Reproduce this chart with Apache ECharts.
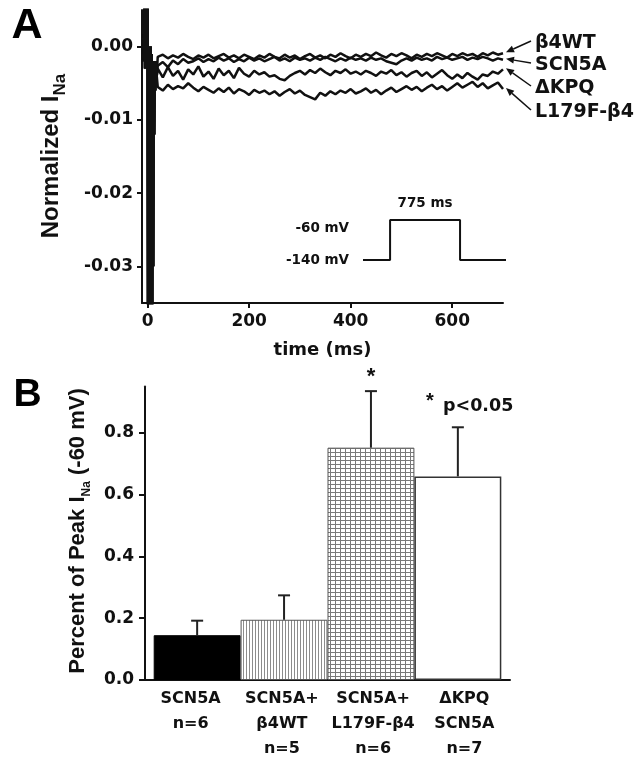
<!DOCTYPE html>
<html><head><meta charset="utf-8">
<script src="https://cdn.jsdelivr.net/npm/echarts@6/dist/echarts.min.js"></script>
<style>html,body{margin:0;padding:0;background:#fff}#c{width:641px;height:765px}</style>
</head><body><div id="c"></div>
<script>
const H = 'DejaVu Sans', R = 'Liberation Sans';

// ---------- Panel A data ----------
const traceNames = ['β4WT', 'SCN5A', 'ΔKPQ', 'L179F-β4'];
const transientTime  = [-7, -6, -5, -4, -3, -2, -1, 0, 1, 2, 3, 4, 5, 6, 7, 8, 9, 10, 11, 12, 13, 14, 15, 16, 18];
const transientValue = [-0.002, 0.008, -0.003, 0.008, -0.002, 0.008, -0.003, 0.006, -0.040, 0.000, -0.040, -0.001, -0.040, 0.000, -0.040, -0.001, -0.040, -0.002, -0.030, -0.002, -0.012, -0.002, -0.006, -0.002, -0.004];
const traceTime = [20,30,40,50,60,70,80,90,100,110,120,130,140,150,160,170,180,190,200,210,220,230,240,250,260,270,280,290,300,310,320,330,340,350,360,370,380,390,400,410,420,430,440,450,460,470,480,490,500,510,520,530,540,550,560,570,580,590,600,610,620,630,640,650,660,670,680,690,700];
const beta4WT = [-0.0014,-0.0011,-0.0016,-0.0012,-0.0015,-0.0010,-0.0014,-0.0017,-0.0012,-0.0015,
 -0.0011,-0.0016,-0.0013,-0.0010,-0.0015,-0.0012,-0.0016,-0.0011,-0.0014,-0.0017,
 -0.0012,-0.0015,-0.0010,-0.0014,-0.0016,-0.0011,-0.0015,-0.0012,-0.0017,-0.0013,
 -0.0010,-0.0015,-0.0012,-0.0016,-0.0011,-0.0014,-0.0009,-0.0013,-0.0016,-0.0011,
 -0.0014,-0.0010,-0.0013,-0.0008,-0.0012,-0.0015,-0.0010,-0.0013,-0.0009,-0.0012,
 -0.0016,-0.0011,-0.0014,-0.0010,-0.0013,-0.0009,-0.0012,-0.0015,-0.0010,-0.0013,
 -0.0009,-0.0012,-0.0010,-0.0014,-0.0009,-0.0012,-0.0008,-0.0011,-0.0009];
const scn5a = [-0.0026,-0.0021,-0.0028,-0.0019,-0.0024,-0.0017,-0.0022,-0.0020,-0.0016,-0.0021,
 -0.0017,-0.0020,-0.0015,-0.0019,-0.0016,-0.0021,-0.0017,-0.0020,-0.0015,-0.0019,
 -0.0016,-0.0020,-0.0017,-0.0014,-0.0019,-0.0016,-0.0020,-0.0015,-0.0018,-0.0016,
 -0.0019,-0.0015,-0.0018,-0.0014,-0.0017,-0.0020,-0.0016,-0.0019,-0.0015,-0.0018,
 -0.0016,-0.0019,-0.0015,-0.0018,-0.0016,-0.0020,-0.0022,-0.0024,-0.0019,-0.0016,
 -0.0019,-0.0015,-0.0018,-0.0016,-0.0019,-0.0014,-0.0017,-0.0015,-0.0018,-0.0016,
 -0.0014,-0.0018,-0.0015,-0.0017,-0.0014,-0.0016,-0.0019,-0.0016,-0.0018];
const dKPQ = [-0.0030,-0.0042,-0.0028,-0.0040,-0.0033,-0.0045,-0.0031,-0.0038,-0.0027,-0.0041,
 -0.0034,-0.0044,-0.0030,-0.0039,-0.0033,-0.0043,-0.0029,-0.0037,-0.0041,-0.0033,
 -0.0038,-0.0035,-0.0041,-0.0039,-0.0044,-0.0046,-0.0040,-0.0036,-0.0033,-0.0038,
 -0.0032,-0.0036,-0.0030,-0.0035,-0.0039,-0.0033,-0.0036,-0.0031,-0.0037,-0.0034,
 -0.0038,-0.0033,-0.0036,-0.0040,-0.0034,-0.0037,-0.0032,-0.0039,-0.0035,-0.0041,
 -0.0036,-0.0033,-0.0040,-0.0035,-0.0042,-0.0037,-0.0032,-0.0039,-0.0044,-0.0038,
 -0.0043,-0.0036,-0.0041,-0.0045,-0.0038,-0.0040,-0.0034,-0.0037,-0.0031];
const l179f = [-0.0055,-0.0060,-0.0052,-0.0058,-0.0054,-0.0057,-0.0050,-0.0056,-0.0061,-0.0055,
 -0.0059,-0.0063,-0.0057,-0.0062,-0.0056,-0.0064,-0.0058,-0.0061,-0.0066,-0.0059,
 -0.0063,-0.0060,-0.0065,-0.0061,-0.0067,-0.0062,-0.0058,-0.0064,-0.0060,-0.0066,
 -0.0069,-0.0072,-0.0063,-0.0067,-0.0061,-0.0065,-0.0060,-0.0063,-0.0058,-0.0064,
 -0.0061,-0.0057,-0.0063,-0.0059,-0.0065,-0.0060,-0.0056,-0.0062,-0.0058,-0.0054,
 -0.0059,-0.0055,-0.0061,-0.0056,-0.0052,-0.0058,-0.0054,-0.0060,-0.0055,-0.0050,
 -0.0056,-0.0052,-0.0048,-0.0055,-0.0050,-0.0057,-0.0053,-0.0049,-0.0058];
const xTicksA = [0, 200, 400, 600];
const yTicksA = [-0.03, -0.02, -0.01, 0];

// inset voltage protocol
const pulseTime = [-300, 0, 0, 775, 775, 1284];
const pulseVolt = [-140, -140, -60, -60, -140, -140];
const pulseLabel = '775 ms';

// ---------- Panel B data ----------
const barCategories = ['SCN5A\nn=6', 'SCN5A+\nβ4WT\nn=5', 'SCN5A+\nL179F-β4\nn=6', 'ΔKPQ\nSCN5A\nn=7'];
const barMeans = [0.145, 0.195, 0.752, 0.659];
const barErrors = [0.047, 0.079, 0.183, 0.159];
const barSignificant = [false, false, true, false];
const yTicksB = [0, 0.2, 0.4, 0.6, 0.8];

// ---------- patterns ----------
function stripePattern() {
  const c = document.createElement('canvas'); c.width = 3; c.height = 4;
  const g = c.getContext('2d'); g.fillStyle = '#fff'; g.fillRect(0, 0, 3, 4);
  g.fillStyle = '#8c8c8c'; g.fillRect(0, 0, 1, 4); return c;
}
function gridPattern() {
  const c = document.createElement('canvas'); c.width = 5; c.height = 4;
  const g = c.getContext('2d'); g.fillStyle = '#fff'; g.fillRect(0, 0, 5, 4);
  g.fillStyle = '#7a7a7a'; g.fillRect(0, 0, 1, 4); g.fillRect(0, 0, 5, 1); return c;
}
const barStyles = [
  { color: '#000', borderColor: '#000', borderWidth: 1 },
  { color: { image: stripePattern(), repeat: 'repeat' }, borderColor: '#555', borderWidth: 1 },
  { color: { image: gridPattern(), repeat: 'repeat' }, borderColor: '#555', borderWidth: 1 },
  { color: '#fff', borderColor: '#333', borderWidth: 1.5 }
];

const axisCol = '#111';
const tickFont = { fontFamily: H, fontWeight: 'bold', fontSize: 17, color: axisCol };

const traceSeries = [beta4WT, scn5a, dKPQ, l179f].map((vals, i) => ({
  type: 'line', name: traceNames[i], xAxisIndex: 0, yAxisIndex: 0,
  data: transientTime.map((t, j) => [t, transientValue[j]]).concat(traceTime.map((t, j) => [t, vals[j]])),
  showSymbol: false, symbol: 'none', lineStyle: { color: '#111', width: 2.5 }, clip: true, z: 3
}));

const chart = echarts.init(document.getElementById('c'), null, { renderer: 'canvas' });
chart.setOption({
  animation: false,
  backgroundColor: '#fff',
  grid: [
    { left: 142, top: 10, width: 361, height: 293 },
    { left: 145, top: 386.5, width: 365, height: 293.5 },
    { left: 363, top: 220, width: 143, height: 40 },
    { left: 145, top: 386.5, width: 365, height: 293.5 }
  ],
  xAxis: [
    { gridIndex: 0, type: 'value', min: -11, max: 700,
      axisLine: { onZero: false, lineStyle: { color: axisCol, width: 2 } },
      axisTick: { customValues: xTicksA, length: 5, lineStyle: { color: axisCol, width: 2 } },
      axisLabel: Object.assign({ customValues: xTicksA, margin: 10 }, tickFont),
      splitLine: { show: false },
      name: 'time (ms)', nameLocation: 'middle', nameGap: 38,
      nameTextStyle: { fontFamily: H, fontWeight: 'bold', fontSize: 18, color: axisCol } },
    { gridIndex: 1, type: 'value', min: 0.4, max: 4.6,
      axisLine: { onZero: false, lineStyle: { color: axisCol, width: 2 } },
      axisTick: { show: false }, axisLabel: { show: false }, splitLine: { show: false } },
    { gridIndex: 2, type: 'value', min: -300, max: 1284, show: false },
    { gridIndex: 3, type: 'category', data: barCategories, boundaryGap: true,
      axisLine: { show: false }, axisTick: { show: false },
      axisLabel: { fontFamily: H, fontWeight: 'bold', fontSize: 16, lineHeight: 25, color: axisCol, margin: 6, interval: 0 } }
  ],
  yAxis: [
    { gridIndex: 0, type: 'value', min: -0.035, max: 0.005,
      axisLine: { show: true, onZero: false, lineStyle: { color: axisCol, width: 2 } },
      axisTick: { show: true, customValues: yTicksA, length: 5, lineStyle: { color: axisCol, width: 2 } },
      axisLabel: Object.assign({ customValues: yTicksA, margin: 9, formatter: v => v.toFixed(2) }, tickFont),
      splitLine: { show: false } },
    { gridIndex: 1, type: 'value', min: 0, max: 0.95,
      axisLine: { show: true, onZero: false, lineStyle: { color: axisCol, width: 2 } },
      axisTick: { show: true, customValues: yTicksB, length: 6, lineStyle: { color: axisCol, width: 2 } },
      axisLabel: Object.assign({ customValues: yTicksB, margin: 11, formatter: v => v.toFixed(1) }, tickFont),
      splitLine: { show: false } },
    { gridIndex: 2, type: 'value', min: -140, max: -60, interval: 80,
      axisLine: { show: false }, axisTick: { show: false }, splitLine: { show: false },
      axisLabel: { formatter: v => (v === -60 ? '{lo|' : '{n|') + v + ' mV}', margin: 14,
        rich: { lo: { fontFamily: H, fontWeight: 'bold', fontSize: 13.5, color: axisCol, padding: [16, 0, 0, 0] },
                n: { fontFamily: H, fontWeight: 'bold', fontSize: 13.5, color: axisCol } } } },
    { gridIndex: 3, type: 'value', show: false }
  ],
  series: traceSeries.concat([
    { type: 'line', xAxisIndex: 2, yAxisIndex: 2, data: pulseTime.map((t, j) => [t, pulseVolt[j]]),
      showSymbol: false, symbol: 'none', lineStyle: { color: '#111', width: 2 } },
    { type: 'bar', xAxisIndex: 1, yAxisIndex: 1, barWidth: '100%',
      data: barMeans.map((m, i) => ({ value: [i + 1, m], itemStyle: barStyles[i] })) },
    { type: 'custom', xAxisIndex: 1, yAxisIndex: 1, z: 5,
      data: barMeans.map((m, i) => [i + 1, m, barErrors[i], barSignificant[i] ? 1 : 0]),
      renderItem: function (params, api) {
        const x = api.value(0), m = api.value(1), e = api.value(2), s = api.value(3);
        const b = api.coord([x, m]), t = api.coord([x, m + e]);
        const ch = [
          { type: 'line', shape: { x1: b[0], y1: b[1], x2: t[0], y2: t[1] }, style: { stroke: '#222', lineWidth: 2 } },
          { type: 'line', shape: { x1: t[0] - 6, y1: t[1], x2: t[0] + 6, y2: t[1] }, style: { stroke: '#222', lineWidth: 2 } }
        ];
        if (s) ch.push({ type: 'text', style: { text: '*', x: t[0], y: t[1] - 3, align: 'center', verticalAlign: 'bottom',
          font: 'bold 22px "Liberation Sans"', fill: '#111' } });
        return { type: 'group', children: ch };
      } }
  ])
});

// ---------- annotations ----------
const labelYs = [43, 65, 88, 112];
const lastVals = [beta4WT, scn5a, dKPQ, l179f].map(a => a[a.length - 1]);
const g = [];
g.push({ type: 'text', x: 27, y: 26, style: { text: 'A', font: 'bold 43px "Liberation Sans"', fill: '#000', align: 'center', verticalAlign: 'middle' } });
g.push({ type: 'text', x: 27.5, y: 395, style: { text: 'B', font: 'bold 39px "Liberation Sans"', fill: '#000', align: 'center', verticalAlign: 'middle' } });
g.push({ type: 'text', x: 60, y: 156, rotation: Math.PI / 2,
  style: { text: '{m|Normalized I}{s|Na}', align: 'center', verticalAlign: 'middle', fill: '#111',
    rich: { m: { font: 'bold 24px "Liberation Sans"', lineHeight: 26, verticalAlign: 'top', fill: '#111' },
            s: { font: 'bold 17px "Liberation Sans"', lineHeight: 42, verticalAlign: 'middle', fill: '#111' } } } });
g.push({ type: 'text', x: 87, y: 531, rotation: Math.PI / 2,
  style: { text: '{m|Percent of Peak I}{s|Na}{m| (-60 mV)}', align: 'center', verticalAlign: 'middle', fill: '#111',
    rich: { m: { font: 'bold 22px "Liberation Sans"', lineHeight: 24, verticalAlign: 'top', fill: '#111' },
            s: { font: 'bold 12px "Liberation Sans"', lineHeight: 40, verticalAlign: 'middle', fill: '#111' } } } });
g.push({ type: 'text', x: 430, y: 401, style: { text: '*', font: 'bold 20px "Liberation Sans"', fill: '#111', align: 'center', verticalAlign: 'middle' } });
g.push({ type: 'text', x: 443, y: 406, style: { text: 'p<0.05', font: 'bold 17.5px "DejaVu Sans"', fill: '#111', align: 'left', verticalAlign: 'middle' } });
traceNames.forEach((n, i) => {
  g.push({ type: 'text', x: 535, y: labelYs[i], style: { text: n, font: 'bold 19px "DejaVu Sans"', fill: '#111', align: 'left', verticalAlign: 'middle' } });
  const tip = chart.convertToPixel({ gridIndex: 0 }, [700, lastVals[i]]);
  const tx = tip[0] + 3, ty = tip[1] - 1;
  const sx = 531, sy = labelYs[i] - 2;
  const dx = tx - sx, dy = ty - sy, L = Math.hypot(dx, dy), ux = dx / L, uy = dy / L;
  const hl = 8, hw = 3.5;
  const bx = tx - ux * hl, by = ty - uy * hl;
  g.push({ type: 'line', shape: { x1: sx, y1: sy, x2: bx, y2: by }, style: { stroke: '#111', lineWidth: 1.5 } });
  g.push({ type: 'polygon', shape: { points: [[tx, ty], [bx - uy * hw, by + ux * hw], [bx + uy * hw, by - ux * hw]] }, style: { fill: '#111' } });
});
const pTop = chart.convertToPixel({ gridIndex: 2 }, [(pulseTime[2] + pulseTime[3]) / 2, pulseVolt[2]]);
g.push({ type: 'text', x: pTop[0], y: pTop[1] - 17, style: { text: pulseLabel, font: 'bold 13.5px "DejaVu Sans"', fill: '#111', align: 'center', verticalAlign: 'middle' } });
chart.setOption({ graphic: g });
</script>
</body></html>
